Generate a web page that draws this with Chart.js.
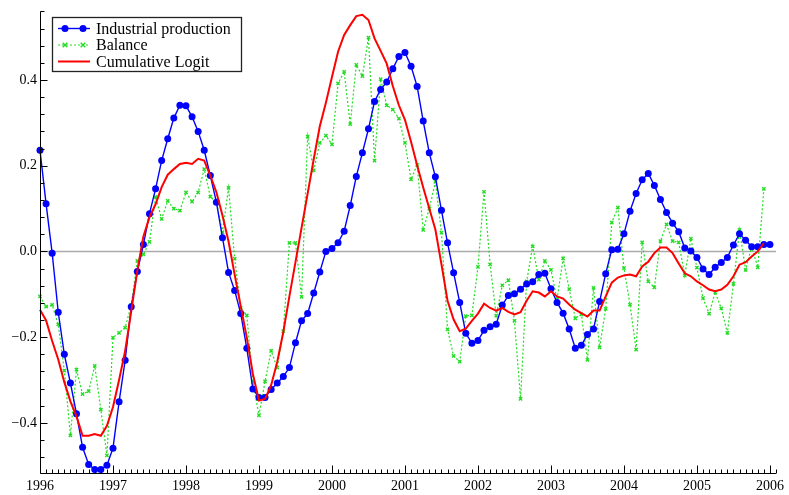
<!DOCTYPE html>
<html><head><meta charset="utf-8">
<script src="https://cdn.jsdelivr.net/npm/chart.js@4/dist/chart.umd.min.js"></script>
<style>html,body{margin:0;padding:0;background:#fff}</style>
</head><body>
<canvas id="c" width="789" height="495"></canvas>
<script>
// ---- data (monthly, starting January 1996) ----
const startYear = 1996;
const yearTicks = [1996, 1997, 1998, 1999, 2000, 2001, 2002, 2003, 2004, 2005, 2006];
const yTicks = [-0.4, -0.2, 0.0, 0.2, 0.4];
const seriesNames = ['Industrial production', 'Balance', 'Cumulative Logit'];

const industrialProduction = [
  0.236, 0.111, -0.004, -0.142, -0.240, -0.307, -0.379, -0.457, -0.497, -0.509, -0.509, -0.499,
  -0.459, -0.351, -0.254, -0.129, -0.047, 0.016, 0.088, 0.146, 0.212, 0.263, 0.311, 0.341,
  0.340, 0.314, 0.280, 0.236, 0.177, 0.115, 0.032, -0.049, -0.091, -0.145, -0.226, -0.321,
  -0.341, -0.341, -0.322, -0.307, -0.292, -0.271, -0.213, -0.162, -0.145, -0.097, -0.048, 0.000,
  0.007, 0.020, 0.047, 0.107, 0.175, 0.230, 0.286, 0.350, 0.378, 0.395, 0.426, 0.455,
  0.464, 0.432, 0.385, 0.304, 0.230, 0.174, 0.096, 0.020, -0.050, -0.119, -0.191, -0.214,
  -0.208, -0.184, -0.176, -0.170, -0.125, -0.103, -0.099, -0.088, -0.076, -0.071, -0.054, -0.051,
  -0.087, -0.119, -0.144, -0.181, -0.226, -0.219, -0.194, -0.181, -0.117, -0.052, 0.004, 0.005,
  0.041, 0.094, 0.135, 0.167, 0.182, 0.154, 0.121, 0.091, 0.066, 0.046, 0.008, 0.001,
  -0.014, -0.041, -0.054, -0.037, -0.026, -0.014, 0.015, 0.041, 0.026, 0.011, 0.011, 0.016,
  0.016
];

const balance = [
  -0.105, -0.129, -0.125, -0.170, -0.278, -0.429, -0.276, -0.333, -0.326, -0.267, -0.369, -0.476,
  -0.201, -0.190, -0.178, -0.125, -0.022, -0.007, 0.022, 0.127, 0.076, 0.118, 0.100, 0.095,
  0.138, 0.116, 0.138, 0.192, 0.128, 0.115, 0.045, 0.148, -0.017, -0.132, -0.149, -0.305,
  -0.382, -0.303, -0.232, -0.271, -0.186, 0.020, 0.020, -0.106, 0.268, 0.189, 0.253, 0.270,
  0.250, 0.392, 0.419, 0.297, 0.435, 0.409, 0.499, 0.212, 0.402, 0.341, 0.331, 0.310,
  0.253, 0.168, 0.202, 0.050, 0.100, 0.162, 0.044, -0.182, -0.244, -0.257, -0.151, -0.149,
  -0.036, 0.139, -0.030, -0.150, -0.079, -0.067, -0.162, -0.344, -0.070, 0.012, -0.066, -0.022,
  -0.043, -0.112, -0.016, -0.088, -0.156, -0.147, -0.253, -0.085, -0.224, -0.134, 0.067, 0.102,
  -0.039, -0.124, -0.229, 0.021, -0.070, -0.084, 0.024, 0.063, 0.024, 0.021, -0.056, 0.030,
  -0.038, -0.109, -0.145, -0.095, -0.133, -0.190, -0.076, 0.050, -0.043, 0.011, -0.037, 0.146
];

const cumulativeLogit = [
  -0.136, -0.161, -0.209, -0.252, -0.305, -0.350, -0.385, -0.430, -0.430, -0.426, -0.430, -0.407,
  -0.363, -0.300, -0.232, -0.140, -0.045, 0.035, 0.080, 0.110, 0.150, 0.179, 0.192, 0.204,
  0.207, 0.204, 0.216, 0.212, 0.177, 0.138, 0.084, 0.023, -0.054, -0.128, -0.201, -0.286,
  -0.348, -0.344, -0.312, -0.258, -0.188, -0.105, -0.025, 0.055, 0.135, 0.215, 0.292, 0.347,
  0.407, 0.466, 0.505, 0.528, 0.549, 0.552, 0.540, 0.497, 0.468, 0.438, 0.386, 0.341,
  0.307, 0.256, 0.201, 0.149, 0.100, 0.051, -0.030, -0.115, -0.159, -0.186, -0.180, -0.162,
  -0.145, -0.122, -0.132, -0.138, -0.132, -0.141, -0.147, -0.142, -0.115, -0.093, -0.096, -0.105,
  -0.093, -0.105, -0.110, -0.124, -0.136, -0.144, -0.152, -0.138, -0.138, -0.105, -0.073, -0.061,
  -0.056, -0.054, -0.058, -0.035, -0.024, -0.004, 0.009, 0.009, -0.004, -0.028, -0.051, -0.058,
  -0.070, -0.079, -0.089, -0.093, -0.089, -0.078, -0.058, -0.031, -0.025, -0.012, 0.000, 0.019
];

const toPoints = arr => arr.map((v, i) => ({ x: startYear + i / 12, y: v }));

const FONT = "'Liberation Serif', 'DejaVu Serif', serif";
const BLUE = '#0000ff', GREEN = '#22dd22', RED = '#ff0000';

const framePlugin = {
  id: 'frame',
  beforeDatasetsDraw(chart) {
    const { ctx, chartArea: a, scales: { y } } = chart;
    const y0 = Math.round(y.getPixelForValue(0)) + 0.5;
    ctx.save();
    ctx.strokeStyle = '#aaaaaa';
    ctx.lineWidth = 1.6;
    ctx.beginPath(); ctx.moveTo(a.left, y0); ctx.lineTo(a.right, y0); ctx.stroke();
    ctx.restore();
  },
  afterDatasetsDraw(chart) {
    const { ctx, chartArea: a, scales: { x, y } } = chart;
    ctx.save();
    ctx.strokeStyle = '#000';
    ctx.lineWidth = 1;
    const L = Math.round(a.left) + 0.5, B = Math.round(a.bottom) + 0.5;
    ctx.beginPath();
    ctx.moveTo(L, a.top); ctx.lineTo(L, B); ctx.lineTo(a.right, B);
    for (let n = -13; n <= 14; n++) {
      const v = n * 0.04;
      const py = Math.round(y.getPixelForValue(v)) + 0.5;
      if (py < a.top - 1 || py > a.bottom + 1) continue;
      const len = (n % 5 === 0) ? 7 : 4;
      ctx.moveTo(L, py); ctx.lineTo(L + len, py);
    }
    for (let m = 0; m <= 121; m++) {
      const px = Math.round(x.getPixelForValue(startYear + m / 12)) + 0.5;
      if (px > a.right + 1) continue;
      const len = (m % 12 === 0) ? 8 : 4;
      ctx.moveTo(px, B); ctx.lineTo(px, B - len);
    }
    ctx.stroke();
    ctx.restore();
  },
  afterDraw(chart) {
    const { ctx } = chart;
    const ds = chart.data.datasets;
    ctx.save();
    const bx = 52.5, by = 17.5, bw = 189, bh = 54;
    ctx.fillStyle = '#fff';
    ctx.fillRect(bx, by, bw, bh);
    ctx.strokeStyle = '#222';
    ctx.lineWidth = 1.3;
    ctx.strokeRect(bx, by, bw, bh);
    const rows = [28.5, 45, 61.5];
    const x1 = 58, x2 = 90;
    ctx.font = '16px ' + FONT;
    ctx.textBaseline = 'middle';
    ctx.textAlign = 'left';
    ds.forEach((d, i) => {
      const ry = rows[i];
      ctx.strokeStyle = d.borderColor;
      ctx.lineWidth = d.borderWidth;
      ctx.setLineDash(d.borderDash || []);
      ctx.beginPath(); ctx.moveTo(x1, ry); ctx.lineTo(x2, ry); ctx.stroke();
      ctx.setLineDash([]);
      if (d.pointRadius > 0) {
        [65, 83].forEach(px => {
          if (d.pointStyle === 'crossRot') {
            const r = d.pointRadius;
            ctx.strokeStyle = d.pointBorderColor;
            ctx.lineWidth = d.pointBorderWidth;
            ctx.beginPath();
            ctx.moveTo(px - r, ry - r); ctx.lineTo(px + r, ry + r);
            ctx.moveTo(px + r, ry - r); ctx.lineTo(px - r, ry + r);
            ctx.stroke();
          } else {
            ctx.fillStyle = d.pointBackgroundColor;
            ctx.beginPath(); ctx.arc(px, ry, d.pointRadius, 0, Math.PI * 2); ctx.fill();
          }
        });
      }
      ctx.fillStyle = '#000';
      ctx.fillText(d.label, 96, ry + 1);
    });
    ctx.restore();
  }
};

new Chart(document.getElementById('c'), {
  type: 'line',
  data: {
    datasets: [
      { label: seriesNames[0], data: toPoints(industrialProduction), borderColor: BLUE, backgroundColor: BLUE,
        borderWidth: 1.4, pointRadius: 3.5, pointBackgroundColor: BLUE, pointBorderWidth: 0, pointBorderColor: BLUE,
        tension: 0, order: 1, clip: false },
      { label: seriesNames[1], data: toPoints(balance), borderColor: GREEN, backgroundColor: GREEN,
        borderWidth: 1.2, borderDash: [2, 2], pointStyle: 'crossRot', pointRadius: 2.3,
        pointBorderColor: GREEN, pointBorderWidth: 1.4, tension: 0, order: 2, clip: false },
      { label: seriesNames[2], data: toPoints(cumulativeLogit), borderColor: RED, backgroundColor: RED,
        borderWidth: 2, pointRadius: 0, tension: 0, order: 0, clip: false }
    ]
  },
  options: {
    responsive: false,
    animation: false,
    devicePixelRatio: 1,
    layout: { padding: { left: 0, right: 9, top: 8, bottom: 0 } },
    plugins: { legend: { display: false }, tooltip: { enabled: false } },
    scales: {
      x: {
        type: 'linear',
        min: startYear, max: startYear + 10 + 1 / 12,
        grid: { display: false, drawTicks: false },
        border: { display: false },
        afterBuildTicks: s => { s.ticks = yearTicks.map(v => ({ value: v })); },
        afterFit: s => { s.height = 22; },
        ticks: { padding: 5, maxRotation: 0, autoSkip: false, color: '#000',
          font: { family: FONT, size: 14 }, callback: v => String(v) }
      },
      y: {
        min: -0.517, max: 0.56,
        grid: { display: false, drawTicks: false },
        border: { display: false },
        afterBuildTicks: s => { s.ticks = yTicks.map(v => ({ value: v })); },
        afterFit: s => { s.width = 40; },
        ticks: { padding: 3, color: '#000', font: { family: FONT, size: 14 },
          callback: v => (v < -1e-9 ? '\u2212' : '') + Math.abs(v).toFixed(1) }
      }
    }
  },
  plugins: [framePlugin]
});
</script>
</body></html>
